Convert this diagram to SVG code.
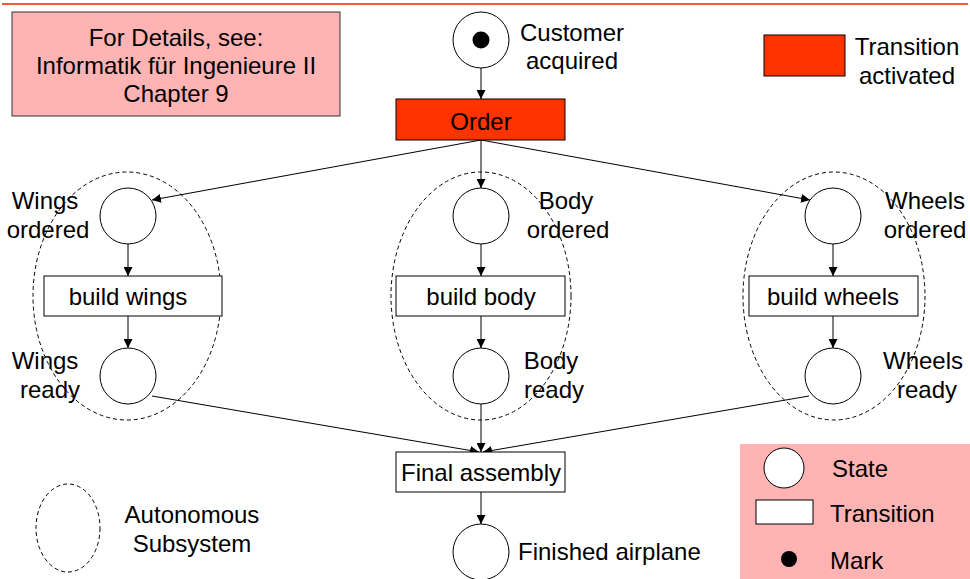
<svg xmlns="http://www.w3.org/2000/svg" width="970" height="579" viewBox="0 0 970 579">
<defs>
<marker id="arr" viewBox="0 0 10 10" refX="10" refY="5" markerWidth="9" markerHeight="9" markerUnits="userSpaceOnUse" orient="auto"><path d="M0,0 L10,5 L0,10 z" fill="#000"/></marker>
<style>
text{font-family:"Liberation Sans",Arial,sans-serif;font-size:24px;fill:#000}
.c{text-anchor:middle}
.st{fill:#fff;stroke:#000;stroke-width:1}
.tr{fill:#fff;stroke:#000;stroke-width:1}
.act{fill:#FF3300;stroke:#000;stroke-width:1}
.sub{fill:none;stroke:#000;stroke-width:1;stroke-dasharray:4,3}
.e{fill:none;stroke:#000;stroke-width:1;marker-end:url(#arr)}
</style>
</defs>
<rect width="970" height="579" fill="#fff"/>
<line x1="2" y1="4" x2="968" y2="4" stroke="#F55A3C" stroke-width="2"/>
<g id="details">
<rect x="12" y="12" width="328" height="104" fill="#FFB3B3" stroke="#333" stroke-width="1"/>
<text class="c" x="176" y="46">For Details, see:</text>
<text class="c" x="176" y="74">Informatik für Ingenieure II</text>
<text class="c" x="176" y="102">Chapter 9</text>
</g>
<g id="legend-activated">
<rect x="764" y="35" width="81" height="41" class="act"/>
<text class="c" x="907" y="55">Transition</text>
<text class="c" x="907" y="84">activated</text>
</g>
<g id="legend">
<rect x="740" y="444" width="230" height="135" fill="#FFB3B3"/>
<circle cx="784" cy="468" r="20" class="st"/>
<text x="832" y="477">State</text>
<rect x="756" y="500" width="57" height="24" class="tr"/>
<text x="830" y="522">Transition</text>
<circle cx="789" cy="559" r="8" fill="#000"/>
<text x="830" y="569">Mark</text>
</g>
<g id="legend-subsystem">
<ellipse cx="68" cy="528" rx="32" ry="44" class="sub"/>
<text class="c" x="192" y="523">Autonomous</text>
<text class="c" x="192" y="552">Subsystem</text>
</g>
<g id="sub-wings"><ellipse cx="127" cy="296" rx="94" ry="124" class="sub"/></g>
<g id="sub-body"><ellipse cx="481" cy="296" rx="90" ry="124" class="sub"/></g>
<g id="sub-wheels"><ellipse cx="834" cy="296" rx="91" ry="124" class="sub"/></g>
<g id="connectors">
<line x1="481" y1="68" x2="481" y2="99" class="e"/>
<line x1="481" y1="140" x2="152" y2="200" class="e"/>
<line x1="481" y1="140" x2="481" y2="188" class="e"/>
<line x1="481" y1="140" x2="810" y2="200" class="e"/>
<line x1="128" y1="244" x2="128" y2="276" class="e"/>
<line x1="128" y1="316" x2="128" y2="348" class="e"/>
<line x1="481" y1="244" x2="481" y2="276" class="e"/>
<line x1="481" y1="316" x2="481" y2="348" class="e"/>
<line x1="833" y1="244" x2="833" y2="276" class="e"/>
<line x1="833" y1="316" x2="833" y2="348" class="e"/>
<line x1="152" y1="396" x2="479" y2="452" class="e"/>
<line x1="481" y1="404" x2="481" y2="452" class="e"/>
<line x1="809" y1="396" x2="483" y2="452" class="e"/>
<line x1="481" y1="492" x2="481" y2="524" class="e"/>
</g>
<g id="customer">
<circle cx="481" cy="40" r="28" class="st"/>
<circle cx="481" cy="40" r="8.5" fill="#000"/>
<text class="c" x="572" y="41">Customer</text>
<text class="c" x="572" y="69">acquired</text>
</g>
<g id="order">
<rect x="396" y="99" width="169" height="41" class="act"/>
<text class="c" x="481" y="130">Order</text>
</g>
<g id="wings-ordered">
<circle cx="128" cy="216" r="28" class="st"/>
<text class="c" x="45" y="209">Wings</text>
<text class="c" x="48" y="238">ordered</text>
</g>
<g id="build-wings">
<rect x="44" y="276" width="178" height="40" class="tr"/>
<text class="c" x="128" y="305">build wings</text>
</g>
<g id="wings-ready">
<circle cx="128" cy="376" r="28" class="st"/>
<text class="c" x="45" y="369">Wings</text>
<text class="c" x="50" y="398">ready</text>
</g>
<g id="body-ordered">
<circle cx="481" cy="216" r="28" class="st"/>
<text class="c" x="566" y="209">Body</text>
<text class="c" x="568" y="238">ordered</text>
</g>
<g id="build-body">
<rect x="396" y="276" width="169" height="40" class="tr"/>
<text class="c" x="481" y="305">build body</text>
</g>
<g id="body-ready">
<circle cx="481" cy="376" r="28" class="st"/>
<text class="c" x="551" y="369">Body</text>
<text class="c" x="554" y="398">ready</text>
</g>
<g id="wheels-ordered">
<circle cx="833" cy="216" r="28" class="st"/>
<text class="c" x="925" y="209">Wheels</text>
<text class="c" x="925" y="238">ordered</text>
</g>
<g id="build-wheels">
<rect x="749" y="276" width="169" height="40" class="tr"/>
<text class="c" x="833" y="305">build wheels</text>
</g>
<g id="wheels-ready">
<circle cx="833" cy="376" r="28" class="st"/>
<text class="c" x="923" y="369">Wheels</text>
<text class="c" x="927" y="398">ready</text>
</g>
<g id="final-assembly">
<rect x="396" y="452" width="169" height="40" class="tr"/>
<text class="c" x="481" y="481">Final assembly</text>
</g>
<g id="finished">
<circle cx="481" cy="552" r="28" class="st"/>
<text x="518" y="560">Finished airplane</text>
</g>
</svg>
